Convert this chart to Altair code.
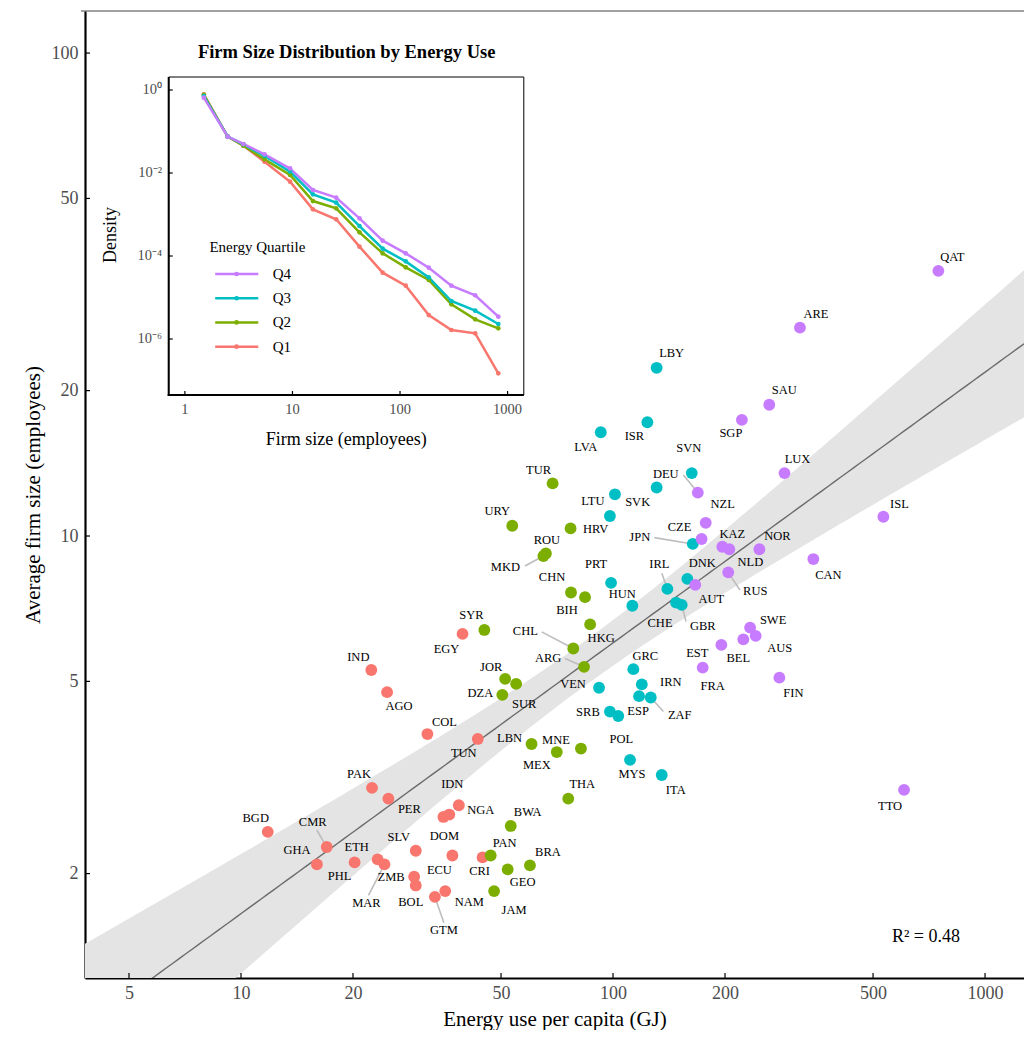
import altair as alt
import numpy as np
import pandas as pd

SERIF = "Liberation Serif"

# ---------------- main scatter data (energy GJ per capita, avg firm size) ----------------
codes_q1 = ["BGD", "CMR", "GHA", "PHL", "ETH", "MAR", "ZMB", "SLV", "ECU", "BOL", "GTM", "NAM",
            "CRI", "DOM", "IDN", "NGA", "IND", "AGO", "EGY", "COL", "TUN", "PAK", "PER"]
energy_q1 = [11.8, 17.0, 16.0, 20.2, 23.3, 24.3, 29.2, 29.5, 37.0, 29.5, 33.2, 35.4,
             44.6, 35.0, 36.3, 38.5, 22.4, 24.7, 39.4, 31.7, 43.3, 22.5, 24.9]
size_q1 = [2.44, 2.27, 2.09, 2.11, 2.14, 2.09, 1.97, 2.23, 2.18, 1.89, 1.79, 1.84,
           2.16, 2.62, 2.65, 2.77, 5.28, 4.75, 6.27, 3.89, 3.80, 3.01, 2.86]

codes_q2 = ["TUR", "URY", "HRV", "ROU", "MKD", "CHN", "BIH", "HKG", "CHL", "ARG", "SYR", "JOR",
            "SUR", "DZA", "LBN", "MEX", "MNE", "THA", "BWA", "PAN", "GEO", "BRA", "JAM"]
energy_q2 = [68.8, 53.6, 76.9, 66.0, 65.0, 77.1, 84.1, 86.8, 78.2, 83.6, 45.1, 51.3,
             54.9, 50.4, 60.4, 70.6, 82.0, 75.8, 53.1, 46.9, 52.1, 59.8, 47.9]
size_q2 = [12.85, 10.5, 10.37, 9.20, 9.09, 7.64, 7.47, 6.56, 5.85, 5.36, 6.39, 5.06,
           4.94, 4.69, 3.71, 3.57, 3.63, 2.86, 2.51, 2.18, 2.04, 2.08, 1.84]

codes_q3 = ["LBY", "ISR", "LVA", "SVN", "SVK", "LTU", "BLR", "JPN", "PRT", "HUN", "IRL", "DNK",
            "CHE", "GBR", "GRC", "VEN", "IRN", "ESP", "ZAF", "SRB", "POL", "MYS", "ITA"]
energy_q3 = [131, 123.7, 92.7, 162.8, 131, 101.2, 98.1, 163.8, 98.8, 112.7, 140, 158.4,
             147.7, 153, 113.4, 91.7, 119.5, 117.5, 126.3, 98.1, 103.3, 111.1, 135.2]
size_q3 = [22.3, 17.2, 16.4, 13.5, 12.6, 12.2, 11.0, 9.63, 8.00, 7.17, 7.77, 8.15,
           7.28, 7.20, 5.30, 4.85, 4.93, 4.66, 4.63, 4.33, 4.24, 3.44, 3.20]

codes_q4 = ["QAT", "ARE", "SAU", "SGP", "LUX", "DEU", "NZL", "CZE", "KAZ", "NLD", "NOR", "ISL",
            "CAN", "RUS", "AUT", "SWE", "AUS", "BEL", "EST", "FRA", "FIN", "TTO"]
energy_q4 = [749, 318, 263, 222, 289, 169, 177.5, 173, 196.7, 205.4, 247.4, 533,
             345.5, 204, 166.4, 233.6, 241.8, 224, 195.5, 174.2, 280, 605.7]
size_q4 = [35.4, 27.0, 18.7, 17.4, 13.5, 12.3, 10.65, 9.86, 9.50, 9.39, 9.39, 10.96,
           8.96, 8.41, 7.92, 6.46, 6.21, 6.11, 5.95, 5.34, 5.09, 2.98]

QUARTILES = ["Q1", "Q2", "Q3", "Q4"]
Q_COLORS = ["#F8766D", "#7CAE00", "#00BFC4", "#C77CFF"]

# label nudges (pixels, right/down) as placed by the repel layout in the picture
LABEL_NUDGE = {
    "BGD": (-12, -14), "CMR": (-14, -25), "GHA": (-20, -14), "PHL": (-15, 14), "ETH": (-21, -12),
    "MAR": (-18, 39), "ZMB": (-23, 0), "SLV": (-17, -14), "ECU": (-13, 14), "BOL": (-5, 17),
    "GTM": (9, 33), "NAM": (24, 11), "CRI": (-3, 14), "DOM": (1, 19), "IDN": (3, -31),
    "NGA": (22, 5), "IND": (-13, -13), "AGO": (12, 14), "EGY": (-16, 15), "COL": (17, -12),
    "TUN": (-14, 14), "PAK": (-13, -14), "PER": (21, 10),
    "TUR": (-14, -13), "URY": (-15, -15), "HRV": (25, 1), "ROU": (1, -13), "MKD": (-38, 11),
    "CHN": (-19, -15), "BIH": (-18, 13), "HKG": (11, 14), "CHL": (-48, -17), "ARG": (-36, -9),
    "SYR": (-13, -15), "JOR": (-14, -12), "SUR": (8, 20), "DZA": (-22, -2), "LBN": (-22, -6),
    "MEX": (-20, 13), "MNE": (-25, -9), "THA": (14, -15), "BWA": (17, -14), "PAN": (14, -13),
    "GEO": (15, 13), "BRA": (18, -13), "JAM": (20, 19),
    "LBY": (15, -15), "ISR": (-13, 14), "LVA": (-15, 15), "SVN": (-3, -25), "SVK": (-19, 14),
    "LTU": (-22, 7), "BLR": (0, 0), "JPN": (-53, -7), "PRT": (-15, -19), "HUN": (-10, -12),
    "IRL": (-8, -25), "DNK": (15, -16), "CHE": (-16, 20), "GBR": (21, 21), "GRC": (12, -13),
    "VEN": (-26, -4), "IRN": (29, -2), "ESP": (-1, 15), "ZAF": (29, 17), "SRB": (-22, 0),
    "POL": (3, 23), "MYS": (2, 14), "ITA": (14, 15),
    "QAT": (14, -14), "ARE": (16, -14), "SAU": (15, -15), "SGP": (-11, 13), "LUX": (13, -14),
    "DEU": (-32, -19), "NZL": (17, -19), "CZE": (-22, -12), "KAZ": (10, -13), "NLD": (21, 13),
    "NOR": (18, -13), "ISL": (16, -13), "CAN": (15, 16), "RUS": (27, 19), "AUT": (16, 14),
    "SWE": (23, -8), "AUS": (24, 12), "BEL": (-5, 19), "EST": (-24, 8), "FRA": (10, 18),
    "FIN": (14, 15), "TTO": (-14, 16),
}
LEADER_END = {
    "CMR": (-10, -17), "MAR": (-16, 31), "GTM": (9, 26), "MKD": (-18.5, 10), "CHL": (-31.6, -16.6),
    "ARG": (-19, -8.4), "JPN": (-38.4, -6.3), "DEU": (-14.4, -17.7), "IRL": (-5.6, -15.7),
    "GBR": (4.3, 16.7), "RUS": (11.7, 17.7), "ZAF": (12.6, 14),
}
UNLABELED = {"BLR"}

# ---------------- inset data ----------------
firm_bins = [1.5, 2.5, 3.5, 5.5, 9.5, 15.5, 25.5, 42, 69, 113, 185, 300, 500, 820]
dens_q4 = [0.653, 0.0752, 0.050, 0.0282, 0.0129, 0.00389, 0.00255, 0.000809, 0.000234,
           0.000116, 5.24e-5, 1.93e-5, 1.13e-5, 3.45e-6]
dens_q3 = [0.716, 0.0752, 0.0491, 0.0257, 0.0108, 0.00306, 0.00193, 0.000528, 0.000150,
           7.43e-5, 3.06e-5, 8.24e-6, 4.82e-6, 2.30e-6]
dens_q2 = [0.759, 0.0752, 0.0456, 0.0213, 0.00895, 0.00211, 0.00141, 0.000372, 0.000116,
           5.33e-5, 2.64e-5, 6.84e-6, 2.98e-6, 1.81e-6]
dens_q1 = [0.787, 0.0752, 0.0456, 0.01875, 0.00618, 0.00133, 0.000766, 0.000168, 3.96e-5,
           1.93e-5, 3.78e-6, 1.65e-6, 1.37e-6, 1.49e-7]

X_TICKS = [5, 10, 20, 50, 100, 200, 500, 1000]
Y_TICKS = [2, 5, 10, 20, 50, 100]
IX_TICKS = [1, 10, 100, 1000]
IX_LABELS = ["1", "10", "100", "1000"]
IY_TICKS = [1, 1e-2, 1e-4, 1e-6]
IY_LABELS = ["10⁰", "10⁻²", "10⁻⁴", "10⁻⁶"]
LEG_ORDER = ["Q4", "Q3", "Q2", "Q1"]

# ---------------- layout ----------------
W, H = 939, 967
X_DOM = [3.808, 1272.6]
Y_DOM = [1.2157, 122.2]
PXX = W / np.log10(X_DOM[1] / X_DOM[0])
PXY = H / np.log10(Y_DOM[1] / Y_DOM[0])

rows = []
for q, cs, es, ss in [("Q1", codes_q1, energy_q1, size_q1), ("Q2", codes_q2, energy_q2, size_q2),
                      ("Q3", codes_q3, energy_q3, size_q3), ("Q4", codes_q4, energy_q4, size_q4)]:
    for c, e, s in zip(cs, es, ss):
        rows.append({"code": c, "energy": e, "size": s, "q": q})
df = pd.DataFrame(rows)
df["lx"] = [e * 10 ** (LABEL_NUDGE[c][0] / PXX) for c, e in zip(df.code, df.energy)]
df["ly"] = [s * 10 ** (-LABEL_NUDGE[c][1] / PXY) for c, s in zip(df.code, df["size"])]
lab_df = df[~df.code.isin(UNLABELED)]

lead_df = df[df.code.isin(LEADER_END.keys())].copy()
lead_df["sx"] = [e * 10 ** (LEADER_END[c][0] / PXX) for c, e in zip(lead_df.code, lead_df.energy)]
lead_df["sy"] = [s * 10 ** (-LEADER_END[c][1] / PXY) for c, s in zip(lead_df.code, lead_df["size"])]

# OLS fit in log-log space with 95% confidence band
lxv = np.log10(df.energy.values)
lyv = np.log10(df["size"].values)
n = len(lxv)
b, a = np.polyfit(lxv, lyv, 1)
res = lyv - (a + b * lxv)
s_err = np.sqrt(np.sum(res ** 2) / (n - 2))
sxx = np.sum((lxv - lxv.mean()) ** 2)
grid = np.linspace(np.log10(X_DOM[0]), np.log10(X_DOM[1]), 150)
fit = a + b * grid
se = s_err * np.sqrt(1.0 / n + (grid - lxv.mean()) ** 2 / sxx)
T = 1.987
fit_df = pd.DataFrame({"x": 10 ** grid, "fit": 10 ** fit,
                       "lo": 10 ** (fit - T * se), "hi": 10 ** (fit + T * se)})

inset_rows = []
for q, d in [("Q1", dens_q1), ("Q2", dens_q2), ("Q3", dens_q3), ("Q4", dens_q4)]:
    for fsz, v in zip(firm_bins, d):
        inset_rows.append({"q": q, "firm_size": fsz, "density": v})
inset_df = pd.DataFrame(inset_rows)

ONE = pd.DataFrame({"k": [0]})
CS = alt.Scale(domain=QUARTILES, range=Q_COLORS)


def XS():
    return alt.Scale(type="log", domain=X_DOM, nice=False)


def YS():
    return alt.Scale(type="log", domain=Y_DOM, nice=False)


X_AXIS = alt.Axis(title="Energy use per capita (GJ)", values=X_TICKS, format="d", grid=False,
                  orient="bottom",
                  labelFont=SERIF, labelFontSize=18, labelColor="#4D4D4D", labelPadding=6,
                  labelOverlap=False, labelFlush=False, ticks=False, tickSize=0,
                  domainColor="black", domainWidth=2.2,
                  titleFont=SERIF, titleFontSize=21, titleFontWeight="normal", titleColor="black",
                  titlePadding=6)
Y_AXIS = alt.Axis(title="Average firm size (employees)", values=Y_TICKS, format="d", grid=False,
                  orient="left",
                  labelFont=SERIF, labelFontSize=18, labelColor="#4D4D4D", labelPadding=7,
                  labelOverlap=False, labelFlush=False, ticks=False, tickSize=0,
                  domainColor="black", domainWidth=2.2,
                  titleFont=SERIF, titleFontSize=21, titleFontWeight="normal", titleColor="black",
                  titlePadding=8)

band = alt.Chart(fit_df).mark_area(color="#E4E4E4", clip=True).encode(
    x=alt.X("x:Q", scale=XS(), axis=X_AXIS),
    y=alt.Y("lo:Q", scale=YS(), axis=Y_AXIS),
    y2="hi:Q")
reg_line = alt.Chart(fit_df).mark_line(color="#6B6B6B", strokeWidth=1.4, clip=True).encode(
    x=alt.X("x:Q", scale=XS(), axis=None), y=alt.Y("fit:Q", scale=YS(), axis=None))
leaders = alt.Chart(lead_df).mark_rule(color="#BDBDBD", strokeWidth=1.6).encode(
    x=alt.X("energy:Q", scale=XS(), axis=None), y=alt.Y("size:Q", scale=YS(), axis=None),
    x2="sx:Q", y2="sy:Q")
points = alt.Chart(df).mark_circle(size=140, opacity=1).encode(
    x=alt.X("energy:Q", scale=XS(), axis=None), y=alt.Y("size:Q", scale=YS(), axis=None),
    color=alt.Color("q:N", scale=CS, legend=None))
labels = alt.Chart(lab_df).mark_text(font=SERIF, fontSize=12.5, color="black").encode(
    x=alt.X("lx:Q", scale=XS(), axis=None), y=alt.Y("ly:Q", scale=YS(), axis=None), text="code:N")
xticks = alt.Chart(pd.DataFrame({"v": X_TICKS})).mark_rule(color="black", strokeWidth=1.2).encode(
    x=alt.X("v:Q", scale=XS(), axis=None), y=alt.value(H - 5), y2=alt.value(H))
yticks = alt.Chart(pd.DataFrame({"v": Y_TICKS})).mark_rule(color="black", strokeWidth=1.2).encode(
    y=alt.Y("v:Q", scale=YS(), axis=None), x=alt.value(0), x2=alt.value(5))
top_border = alt.Chart(ONE).mark_rule(color="#444444", strokeWidth=1).encode(
    x=alt.value(-4), x2=alt.value(W), y=alt.value(0))
r2 = alt.Chart(ONE).mark_text(text="R² = 0.48", font=SERIF, fontSize=18, color="black").encode(
    x=alt.value(841), y=alt.value(926))

main_layers = [band, reg_line, leaders, points, labels, xticks, yticks, top_border, r2]

# ---------------- inset ----------------
IX0, IX1, IY0, IY1 = 83.7, 438.8, 66, 384


def IXS():
    return alt.Scale(type="log", domain=[0.707, 1415], range=[IX0, IX1], nice=False)


def IYS():
    return alt.Scale(type="log", domain=[4.477e-8, 2.056], range=[IY1, IY0], nice=False)


frame = alt.Chart(ONE).mark_rect(fill="white", stroke="black", strokeWidth=1).encode(
    x=alt.value(IX0), x2=alt.value(IX1), y=alt.value(IY0), y2=alt.value(IY1))
inset_lines = alt.Chart(inset_df).mark_line(
    strokeWidth=2.5, point=alt.OverlayMarkDef(filled=True, size=22, opacity=1)).encode(
    x=alt.X("firm_size:Q", scale=IXS(), axis=None),
    y=alt.Y("density:Q", scale=IYS(), axis=None),
    color=alt.Color("q:N", scale=CS, legend=None))
i_left = alt.Chart(ONE).mark_rule(color="black", strokeWidth=2).encode(
    x=alt.value(IX0), y=alt.value(IY0), y2=alt.value(IY1 + 1))
i_bottom = alt.Chart(ONE).mark_rule(color="black", strokeWidth=2).encode(
    x=alt.value(IX0 - 1), x2=alt.value(IX1), y=alt.value(IY1))
ix_df = pd.DataFrame({"v": IX_TICKS, "lab": IX_LABELS})
iy_df = pd.DataFrame({"v": IY_TICKS, "lab": IY_LABELS})
ixt = alt.Chart(ix_df).mark_rule(color="black", strokeWidth=1.2).encode(
    x=alt.X("v:Q", scale=IXS(), axis=None), y=alt.value(IY1 - 4), y2=alt.value(IY1))
iyt = alt.Chart(iy_df).mark_rule(color="black", strokeWidth=1.2).encode(
    y=alt.Y("v:Q", scale=IYS(), axis=None), x=alt.value(IX0), x2=alt.value(IX0 + 4))
ixl = alt.Chart(ix_df).mark_text(font=SERIF, fontSize=14.5, color="#4D4D4D").encode(
    x=alt.X("v:Q", scale=IXS(), axis=None), y=alt.value(399), text="lab:N")
iyl = alt.Chart(iy_df).mark_text(font=SERIF, fontSize=14.5, color="#4D4D4D", align="right").encode(
    y=alt.Y("v:Q", scale=IYS(), axis=None), x=alt.value(77), text="lab:N")
ititle = alt.Chart(ONE).mark_text(text="Firm Size Distribution by Energy Use", font=SERIF,
                                  fontSize=18.5, fontWeight="bold", color="black").encode(
    x=alt.value(261.7), y=alt.value(40.5))
ixtitle = alt.Chart(ONE).mark_text(text="Firm size (employees)", font=SERIF, fontSize=18,
                                   color="black").encode(x=alt.value(261.3), y=alt.value(429))
iytitle = alt.Chart(ONE).mark_text(text="Density", font=SERIF, fontSize=18, color="black",
                                   angle=270).encode(x=alt.value(26), y=alt.value(224))

inset_layers = [frame, inset_lines, i_left, i_bottom, ixt, iyt, ixl, iyl, ititle, ixtitle, iytitle]

# ---------------- inset legend ----------------
def LS():
    return alt.Scale(type="point", domain=LEG_ORDER, range=[263, 335.7], padding=0)


leg_df = pd.DataFrame({"q": LEG_ORDER})
leg_rule = alt.Chart(leg_df).mark_rule(strokeWidth=2.5).encode(
    x=alt.value(130.2), x2=alt.value(173.3), y=alt.Y("q:N", scale=LS(), axis=None),
    color=alt.Color("q:N", scale=CS, legend=None))
leg_pt = alt.Chart(leg_df).mark_circle(size=22, opacity=1).encode(
    x=alt.value(151.6), y=alt.Y("q:N", scale=LS(), axis=None),
    color=alt.Color("q:N", scale=CS, legend=None))
leg_txt = alt.Chart(leg_df).mark_text(font=SERIF, fontSize=15, color="black", align="left").encode(
    x=alt.value(187.7), y=alt.Y("q:N", scale=LS(), axis=None), text="q:N")
leg_title = alt.Chart(ONE).mark_text(text="Energy Quartile", font=SERIF, fontSize=15,
                                     color="black", align="left").encode(
    x=alt.value(124.4), y=alt.value(235.7))
legend_layers = [leg_rule, leg_pt, leg_txt, leg_title]

chart = alt.layer(*main_layers, *inset_layers, *legend_layers).resolve_scale(
    x="independent", y="independent"
).properties(
    width=W, height=H,
    autosize=alt.AutoSizeParams(type="none"),
    padding={"left": 77, "top": 3, "right": 0, "bottom": 52},
).configure_view(stroke=None)

chart.save("out.html", embed_options={"renderer": "svg", "actions": False})
